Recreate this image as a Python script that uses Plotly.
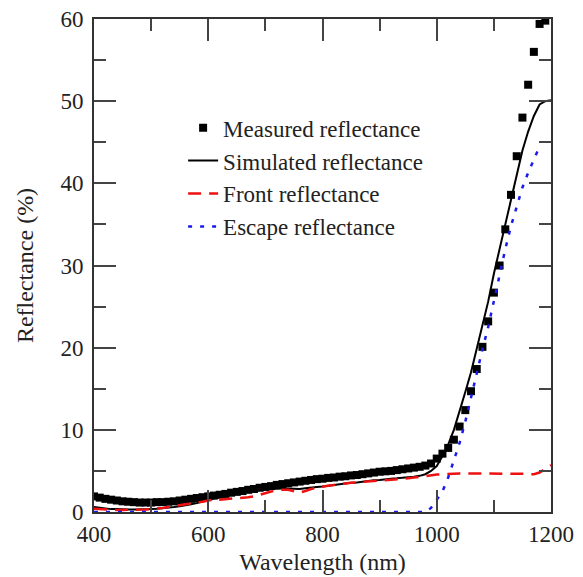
import plotly.graph_objects as go

# Wavelength grids (nm)
wl_measured = list(range(400, 1200, 10))        # 400..1190
wl_sim = list(range(400, 1210, 10))             # 400..1200
wl_escape = list(range(400, 1190, 10))          # 400..1180

measured = [
    1.9, 1.75, 1.6, 1.5, 1.4, 1.3, 1.25, 1.2, 1.15, 1.15,
    1.15, 1.2, 1.2, 1.25, 1.3, 1.4, 1.5, 1.6, 1.7, 1.8,
    1.9, 2.0, 2.1, 2.2, 2.35, 2.45, 2.55, 2.7, 2.8, 2.95,
    3.05, 3.15, 3.3, 3.4, 3.5, 3.6, 3.7, 3.8, 3.9, 4.0,
    4.05, 4.15, 4.2, 4.3, 4.35, 4.45, 4.5, 4.6, 4.7, 4.8,
    4.9, 4.95, 5.0, 5.1, 5.2, 5.3, 5.4, 5.5, 5.65, 5.9,
    6.5, 7.1, 7.8, 8.8, 10.4, 12.4, 14.7, 17.4, 20.1, 23.2,
    26.7, 30.0, 34.4, 38.6, 43.3, 48.0, 52.0, 56.0, 59.4, 59.8,
]

simulated = [
    0.6, 0.5, 0.4, 0.35, 0.35, 0.3, 0.3, 0.3, 0.3, 0.3,
    0.35, 0.4, 0.45, 0.5, 0.6, 0.7, 0.8, 0.95, 1.1, 1.3,
    1.5, 1.65, 1.8, 1.95, 2.1, 2.25, 2.4, 2.5, 2.6, 2.7,
    2.75, 2.8, 2.85, 2.85, 2.85, 2.8, 2.8, 2.9, 3.0, 3.05,
    3.1, 3.2, 3.3, 3.4, 3.45, 3.55, 3.6, 3.7, 3.75, 3.85,
    3.9, 4.0, 4.05, 4.1, 4.15, 4.2, 4.3, 4.4, 4.6, 5.0,
    5.6, 6.8, 8.2, 10.0, 12.2, 14.6, 17.0, 19.8, 22.6, 25.6,
    29.0, 32.0, 35.2, 38.3, 41.2, 44.0, 46.3, 48.2, 49.6, 50.0,
    50.1,
]

front = [
    0.4, 0.35, 0.3, 0.25, 0.25, 0.25, 0.25, 0.25, 0.3, 0.3,
    0.35, 0.4, 0.5, 0.6, 0.7, 0.8, 0.9, 1.0, 1.1, 1.25,
    1.4, 1.5, 1.5, 1.55, 1.6, 1.65, 1.7, 1.8, 1.9, 2.1,
    2.3, 2.5, 2.6, 2.7, 2.7, 2.5, 2.35, 2.55, 2.8, 2.95,
    3.1, 3.2, 3.3, 3.4, 3.5, 3.55, 3.6, 3.65, 3.7, 3.8,
    3.85, 3.9, 3.95, 4.0, 4.05, 4.1, 4.2, 4.3, 4.4, 4.5,
    4.55, 4.6, 4.65, 4.7, 4.7, 4.7, 4.7, 4.7, 4.7, 4.7,
    4.7, 4.7, 4.7, 4.7, 4.7, 4.65, 4.6, 4.6, 4.8, 5.2,
    5.7,
]

escape = [0.0] * 59 + [
    0.5, 1.5, 2.5, 4.2, 6.2, 8.4, 11.0, 14.0, 17.0, 19.8,
    22.5, 25.8, 29.0, 32.0, 34.8, 37.3, 39.5, 41.3, 43.0, 44.5,
]

FONT = "Liberation Serif"

fig = go.Figure()
fig.add_trace(go.Scatter(
    x=wl_measured, y=measured, mode="markers", name="Measured reflectance",
    marker=dict(symbol="square", size=8, color="black"),
))
fig.add_trace(go.Scatter(
    x=wl_sim, y=simulated, mode="lines", name="Simulated reflectance",
    line=dict(color="black", width=2),
))
fig.add_trace(go.Scatter(
    x=wl_sim, y=front, mode="lines", name="Front reflectance",
    line=dict(color="#ee1111", width=2.5, dash="13px,8px"),
))
fig.add_trace(go.Scatter(
    x=wl_escape, y=escape, mode="lines", name="Escape reflectance",
    line=dict(color="#1a1aee", width=2.5, dash="4px,8px"), cliponaxis=False,
))

axis_common = dict(
    showline=True, linecolor="#333", linewidth=2, mirror="ticks",
    ticks="inside", ticklen=22, tickwidth=2, tickcolor="#444",
    showgrid=False, zeroline=False, automargin=False,
    tickfont=dict(family=FONT, size=23, color="#222"),
    title_font=dict(family=FONT, size=24, color="#222"),
)

fig.update_xaxes(
    range=[400, 1200], dtick=200, tick0=400,
    minor=dict(dtick=100, ticks="inside", ticklen=12, tickwidth=2, tickcolor="#444"),
    title_text="Wavelength (nm)", title_standoff=8, ticklabelstandoff=0,
    **axis_common,
)
fig.update_yaxes(
    range=[0, 60], dtick=10, tick0=0,
    minor=dict(dtick=5, ticks="inside", ticklen=12, tickwidth=2, tickcolor="#444"),
    title_text="Reflectance (%)", title_standoff=20, ticklabelstandoff=4,
    **axis_common,
)

fig.update_layout(
    width=583, height=577,
    margin=dict(l=94, r=32, t=19, b=65),
    plot_bgcolor="white", paper_bgcolor="white",
    font=dict(family=FONT, color="#222"),
    legend=dict(
        x=0.195, y=0.823, xanchor="left", yanchor="top",
        bgcolor="rgba(0,0,0,0)", borderwidth=0,
        font=dict(family=FONT, size=23, color="#222"),
        tracegroupgap=0,
    ),
)

fig.write_html("out.html")
